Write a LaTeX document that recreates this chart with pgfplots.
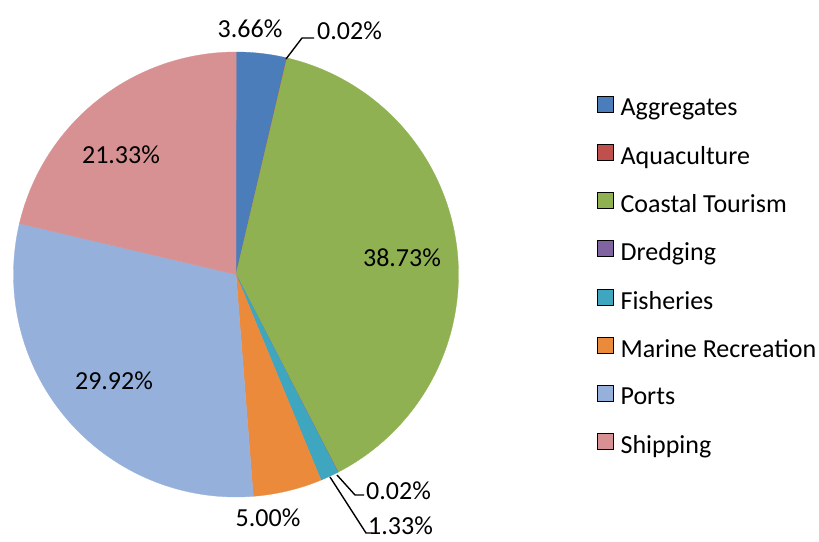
\documentclass[border=0pt]{standalone}
\usepackage{pgfplots}
\pgfplotsset{compat=1.18}
\usepackage{fontspec}
\setmainfont{Carlito}
\definecolor{cAgg}{HTML}{4A7DBA}
\definecolor{cAqu}{HTML}{C0504D}
\definecolor{cCoast}{HTML}{8FB151}
\definecolor{cDred}{HTML}{8064A2}
\definecolor{cFish}{HTML}{3FA6BF}
\definecolor{cMar}{HTML}{EC8A3C}
\definecolor{cPorts}{HTML}{95B0DA}
\definecolor{cShip}{HTML}{D89193}
\begin{document}
\begin{tikzpicture}
\def\cx{236}\def\cy{266.5}\def\R{222.5}
\begin{axis}[
  scale only axis, width=819pt, height=541pt,
  xmin=0, xmax=819, ymin=0, ymax=541,
  axis lines=none, clip=false,
  legend style={at={(axis cs:597,445)}, anchor=north west, draw=none, fill=none,
    inner sep=0pt, row sep=25.3pt, font=\fontsize{26}{30}\selectfont,
    nodes={inner sep=1pt},
    /tikz/every odd column/.append style={column sep=6pt}},
  legend cell align=left,
  legend image code/.code={\fill[#1] (0pt,-4pt) rectangle (16pt,12pt);},
]
\path (axis cs:0,0) rectangle (axis cs:819,541);
\pgfmathsetmacro\a{90}
\global\let\a\a
\foreach \p/\c in {3.66/cAgg, 0.02/cAqu, 38.73/cCoast, 0.02/cDred, 1.33/cFish, 5.00/cMar, 29.92/cPorts, 21.33/cShip} {
  \pgfmathsetmacro\b{\a-3.6*\p}
  \edef\tmp{\noexpand\addplot[fill=\c, draw=\c, line width=0.3pt, domain=\b:\a, samples=90, forget plot] ({\cx+\R*cos(x)},{\cy+\R*sin(x)}) -- (axis cs:\cx,\cy) -- cycle;}
  \tmp
  \global\let\a\b
}
\addlegendimage{fill=cAgg}\addlegendentry{Aggregates}
\addlegendimage{fill=cAqu}\addlegendentry{Aquaculture}
\addlegendimage{fill=cCoast}\addlegendentry{Coastal Tourism}
\addlegendimage{fill=cDred}\addlegendentry{Dredging}
\addlegendimage{fill=cFish}\addlegendentry{Fisheries}
\addlegendimage{fill=cMar}\addlegendentry{Marine Recreation}
\addlegendimage{fill=cPorts}\addlegendentry{Ports}
\addlegendimage{fill=cShip}\addlegendentry{Shipping}
% data labels
\tikzset{lbl/.style={font=\fontsize{26}{30}\selectfont, inner sep=0pt}}
\node[lbl] at (axis cs:250,512) {3.66\%};
\node[lbl, anchor=west] at (axis cs:317,510) {0.02\%};
\node[lbl] at (axis cs:402,283) {38.73\%};
\node[lbl] at (axis cs:121,386) {21.33\%};
\node[lbl] at (axis cs:114,160) {29.92\%};
\node[lbl] at (axis cs:268,23) {5.00\%};
\node[lbl, anchor=west] at (axis cs:366,50) {0.02\%};
\node[lbl, anchor=west] at (axis cs:368,15) {1.33\%};
% leader lines
\draw[black, line width=1.4pt] (axis cs:286,482) -- (axis cs:302,503) -- (axis cs:314,503);
\draw[black, line width=1.4pt] (axis cs:337,66) -- (axis cs:355,46) -- (axis cs:364,46);
\draw[black, line width=1.4pt] (axis cs:330,64) -- (axis cs:366,8) -- (axis cs:372,8);
\end{axis}
\end{tikzpicture}
\end{document}
